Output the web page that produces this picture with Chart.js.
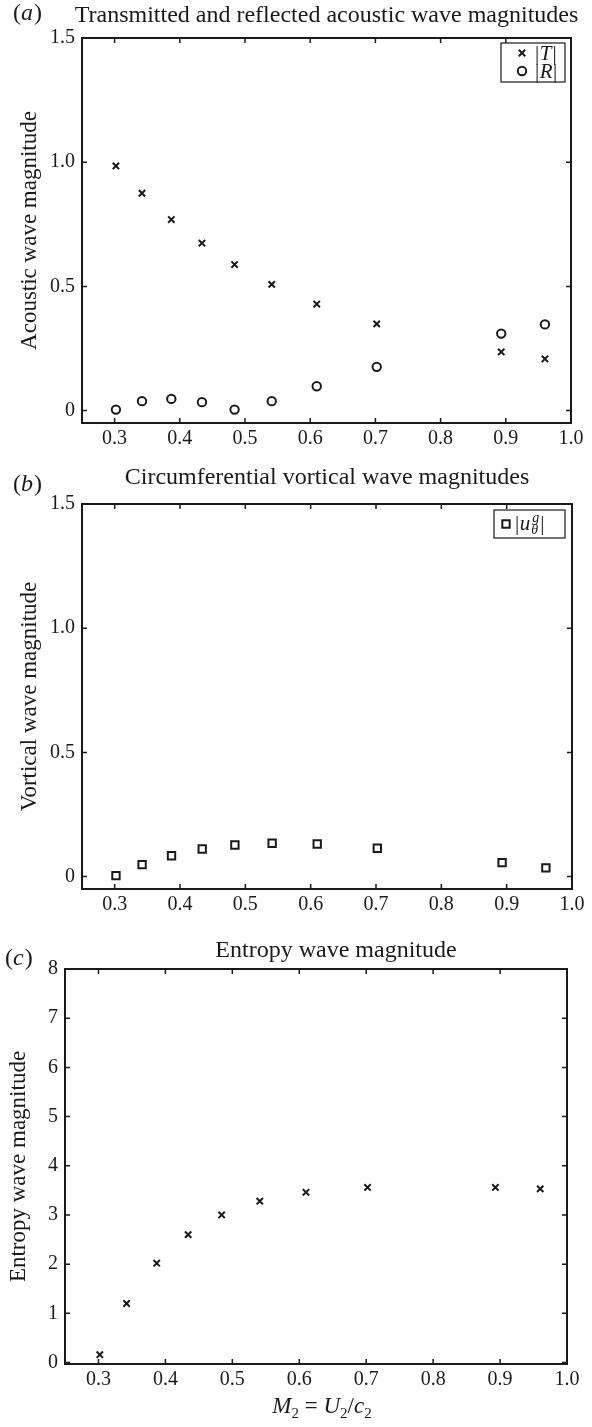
<!DOCTYPE html>
<html>
<head>
<meta charset="utf-8">
<script src="https://cdn.jsdelivr.net/npm/chart.js@4.4.1/dist/chart.umd.min.js"></script>
<style>
  body { margin: 0; background: #fff; }
  .panel { position: absolute; left: 0; width: 592px; }
  canvas { display: block; }
</style>
</head>
<body>
<div class="panel" style="top:0;height:460px"><canvas id="chartA" width="592" height="460"></canvas></div>
<div class="panel" style="top:460px;height:460px"><canvas id="chartB" width="592" height="460"></canvas></div>
<div class="panel" style="top:920px;height:507px"><canvas id="chartC" width="592" height="507"></canvas></div>
<script>
// Mach number M2 = U2/c2 of each computed case
const machNumbers = [0.302, 0.342, 0.387, 0.434, 0.484, 0.541, 0.610, 0.702, 0.893, 0.960];
// (a) acoustic waves
const transmitted = [0.985, 0.875, 0.769, 0.674, 0.588, 0.508, 0.429, 0.349, 0.236, 0.208];
const reflected = [0.004, 0.038, 0.047, 0.034, 0.004, 0.038, 0.098, 0.176, 0.310, 0.347];
// (b) circumferential vortical wave
const vortical = [0.004, 0.048, 0.084, 0.111, 0.127, 0.134, 0.131, 0.114, 0.056, 0.035];
// (c) entropy wave
const entropy = [0.16, 1.20, 2.02, 2.60, 3.00, 3.28, 3.46, 3.56, 3.56, 3.53];

const xTicks = [0.3, 0.4, 0.5, 0.6, 0.7, 0.8, 0.9, 1.0];
const xTickLabels = ["0.3", "0.4", "0.5", "0.6", "0.7", "0.8", "0.9", "1.0"];
const magTicks = [0, 0.5, 1.0, 1.5];
const magTickLabels = ["0", "0.5", "1.0", "1.5"];
const entropyTicks = [0, 1, 2, 3, 4, 5, 6, 7, 8];
const entropyTickLabels = ["0", "1", "2", "3", "4", "5", "6", "7", "8"];

const SERIF = '"Liberation Serif", "DejaVu Serif", serif';
const INK = "#1a1a1a";

// draw a run of text pieces [text, font, dy, extra] one after the other
function drawRuns(ctx, runs, x, y, align) {
  let w = 0;
  runs.forEach(r => { ctx.font = r[1]; w += ctx.measureText(r[0]).width + (r[3] || 0); });
  let cx = align === "center" ? x - w / 2 : x;
  runs.forEach(r => {
    ctx.font = r[1];
    ctx.fillText(r[0], cx, y + (r[2] || 0));
    cx += ctx.measureText(r[0]).width + (r[3] || 0);
  });
}

const decorPlugin = {
  id: "decor",
  afterDraw(chart, args, opts) {
    const { ctx, chartArea: a, scales: { x, y } } = chart;
    ctx.save();
    ctx.strokeStyle = INK;
    ctx.fillStyle = INK;

    // box and inward ticks on all four sides
    ctx.lineWidth = 2;
    ctx.strokeRect(a.left, a.top, a.right - a.left, a.bottom - a.top);
    ctx.lineWidth = 1.5;
    ctx.beginPath();
    x.ticks.forEach(t => {
      const px = x.getPixelForValue(t.value);
      ctx.moveTo(px, a.bottom); ctx.lineTo(px, a.bottom - 5);
      ctx.moveTo(px, a.top); ctx.lineTo(px, a.top + 5);
    });
    y.ticks.forEach(t => {
      const py = y.getPixelForValue(t.value);
      ctx.moveTo(a.left, py); ctx.lineTo(a.left + 5, py);
      ctx.moveTo(a.right, py); ctx.lineTo(a.right - 5, py);
    });
    ctx.stroke();

    ctx.textBaseline = "alphabetic";
    ctx.textAlign = "left";

    // title and panel letter
    const tx = opts.titleX || (a.left + a.right) / 2;
    drawRuns(ctx, [[opts.title, "24px " + SERIF]], tx, opts.titleY, "center");
    drawRuns(ctx, [["(", "24px " + SERIF], [opts.letter, "italic 24px " + SERIF, 0, 1], [")", "24px " + SERIF]],
      opts.letterX, opts.letterY);

    // y axis label
    ctx.save();
    ctx.translate(opts.ylabelX, (a.top + a.bottom) / 2);
    ctx.rotate(-Math.PI / 2);
    ctx.textBaseline = "middle";
    drawRuns(ctx, [[opts.ylabel, "23px " + SERIF]], 0, 0, "center");
    ctx.restore();

    // x axis label
    if (opts.xlabel) {
      drawRuns(ctx, opts.xlabel, opts.xlabelX, opts.xlabelY, "center");
    }

    // legend
    if (opts.legend) {
      const L = opts.legend;
      ctx.lineWidth = 1.2;
      ctx.fillStyle = "#fff";
      ctx.fillRect(L.box[0], L.box[1], L.box[2], L.box[3]);
      ctx.strokeRect(L.box[0], L.box[1], L.box[2], L.box[3]);
      L.items.forEach(it => {
        ctx.fillStyle = "#fff";
        ctx.strokeStyle = INK;
        ctx.lineWidth = it.marker.borderWidth;
        Chart.helpers.drawPoint(ctx, it.marker, L.markerX, it.y);
        ctx.fillStyle = INK;
        ctx.textBaseline = "alphabetic";
        if (it.draw) it.draw(ctx, L.textX, it.y);
        else drawRuns(ctx, it.runs, L.textX, it.y + 7);
      });
    }
    ctx.restore();
  }
};

const crossMarker = { pointStyle: "crossRot", radius: 4.5, borderWidth: 2, rotation: 0 };
const circleMarker = { pointStyle: "circle", radius: 4.2, borderWidth: 2, rotation: 0 };
const squareMarker = { pointStyle: "rect", radius: 5.2, borderWidth: 2, rotation: 0 };

function points(values) {
  return values.map((v, i) => ({ x: machNumbers[i], y: v }));
}

function markerDataset(values, m) {
  return {
    data: points(values),
    showLine: false,
    pointStyle: m.pointStyle,
    pointRadius: m.radius,
    pointBorderWidth: m.borderWidth,
    pointBorderColor: INK,
    pointBackgroundColor: "#fff",
    pointHoverRadius: m.radius
  };
}

function panelOptions(cfg) {
  const tickFont = { family: SERIF, size: 20 };
  return {
    responsive: false,
    animation: false,
    layout: { padding: cfg.padding },
    plugins: { legend: { display: false }, tooltip: { enabled: false }, decor: cfg.decor },
    scales: {
      x: {
        type: "linear", min: 0.25, max: 1.0,
        grid: { display: false, drawTicks: false }, border: { display: false },
        afterBuildTicks: s => { s.ticks = xTicks.map(v => ({ value: v })); },
        afterFit: s => { s.height = cfg.xHeight; },
        ticks: { autoSkip: false, maxRotation: 0, padding: 4, color: INK, font: tickFont,
          callback: (v, i) => xTickLabels[i] }
      },
      y: {
        type: "linear", min: cfg.yMin, max: cfg.yMax,
        grid: { display: false, drawTicks: false }, border: { display: false },
        afterBuildTicks: s => { s.ticks = cfg.yTicks.map(v => ({ value: v })); },
        afterFit: s => { s.width = cfg.yWidth; },
        ticks: { autoSkip: false, padding: 7, color: INK, font: tickFont,
          callback: (v, i) => cfg.yTickLabels[i] }
      }
    }
  };
}

const legendFont = "21px " + SERIF;
const legendItalic = "italic 21px " + SERIF;

// (a) transmitted and reflected acoustic waves
new Chart(document.getElementById("chartA"), {
  type: "scatter",
  data: { datasets: [markerDataset(transmitted, crossMarker), markerDataset(reflected, circleMarker)] },
  options: panelOptions({
    padding: { left: 0, top: 38, right: 21, bottom: 0 },
    xHeight: 37, yWidth: 82, yMin: -0.05, yMax: 1.5,
    yTicks: magTicks, yTickLabels: magTickLabels,
    decor: {
      title: "Transmitted and reflected acoustic wave magnitudes", titleY: 22,
      letter: "a", letterX: 13, letterY: 20,
      ylabel: "Acoustic wave magnitude", ylabelX: 30,
      legend: {
        box: [501, 43, 64, 39], markerX: 522, textX: 535,
        items: [
          { marker: crossMarker, y: 53, runs: [["|", legendFont, 0, 0.5], ["T", legendItalic, 0, 1], ["|", legendFont]] },
          { marker: circleMarker, y: 71, runs: [["|", legendFont, 0, 0.5], ["R", legendItalic, 0, 0.5], ["|", legendFont]] }
        ]
      }
    }
  }),
  plugins: [decorPlugin]
});

// (b) circumferential vortical wave
new Chart(document.getElementById("chartB"), {
  type: "scatter",
  data: { datasets: [markerDataset(vortical, squareMarker)] },
  options: panelOptions({
    padding: { left: 0, top: 44, right: 20, bottom: 0 },
    xHeight: 31, yWidth: 82, yMin: -0.05, yMax: 1.5,
    yTicks: magTicks, yTickLabels: magTickLabels,
    decor: {
      title: "Circumferential vortical wave magnitudes", titleY: 24,
      letter: "b", letterX: 13, letterY: 31,
      ylabel: "Vortical wave magnitude", ylabelX: 30,
      legend: {
        box: [494, 50, 71, 28], markerX: 506, textX: 515,
        items: [{
          marker: squareMarker, y: 64,
          draw: (ctx, x, y) => {
            const base = y + 6;
            ctx.font = legendFont; ctx.fillText("|", x, base); x += ctx.measureText("|").width + 0.5;
            ctx.font = legendItalic; ctx.fillText("u", x, base); x += ctx.measureText("u").width + 1;
            ctx.font = "italic 14px " + SERIF;
            ctx.fillText("g", x + 1, base - 8);
            ctx.fillText("\u03B8", x, base + 4);
            x += Math.max(ctx.measureText("g").width + 1, ctx.measureText("\u03B8").width) + 1;
            ctx.font = legendFont; ctx.fillText("|", x, base);
          }
        }]
      }
    }
  }),
  plugins: [decorPlugin]
});

// (c) entropy wave
new Chart(document.getElementById("chartC"), {
  type: "scatter",
  data: { datasets: [markerDataset(entropy, crossMarker)] },
  options: panelOptions({
    padding: { left: 0, top: 49, right: 25, bottom: 0 },
    xHeight: 63, yWidth: 65, yMin: -0.03, yMax: 8,
    yTicks: entropyTicks, yTickLabels: entropyTickLabels,
    decor: {
      title: "Entropy wave magnitude", titleX: 336, titleY: 37,
      letter: "c", letterX: 5, letterY: 45,
      ylabel: "Entropy wave magnitude", ylabelX: 19,
      xlabel: [
        ["M", "italic 23px " + SERIF], ["2", "15px " + SERIF, 5],
        [" = ", "23px " + SERIF], ["U", "italic 23px " + SERIF], ["2", "15px " + SERIF, 5],
        ["/", "23px " + SERIF], ["c", "italic 23px " + SERIF], ["2", "15px " + SERIF, 5]
      ],
      xlabelX: 322, xlabelY: 493
    }
  }),
  plugins: [decorPlugin]
});
</script>
</body>
</html>
